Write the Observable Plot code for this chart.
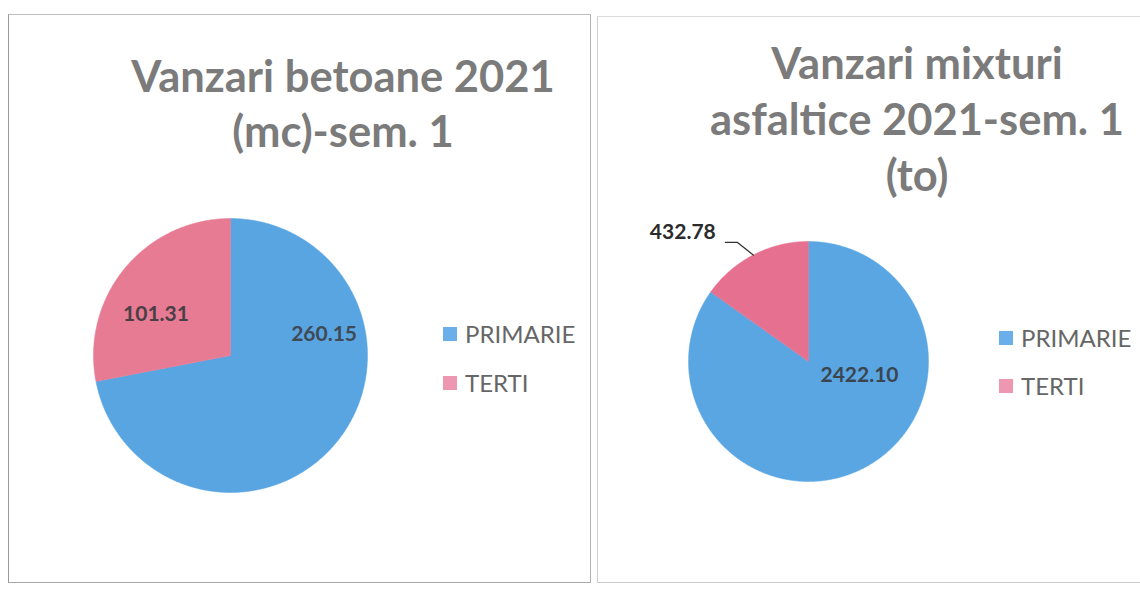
<!DOCTYPE html>
<html><head><meta charset="utf-8">
<script src="https://cdn.jsdelivr.net/npm/d3@7"></script>
<script src="https://cdn.jsdelivr.net/npm/@observablehq/plot@0.6"></script>
<style>
body{margin:0;background:#fff;}
#root{position:relative;width:1140px;height:589px;overflow:hidden;font-family:Lato,"Open Sans",sans-serif;}
.panel{position:absolute;box-sizing:border-box;}
.title{position:absolute;text-align:center;font-weight:700;color:#7b7b7b;font-size:43.5px;white-space:nowrap;}
.legend{position:absolute;font-size:24px;color:#666;}
.legend .item{position:absolute;left:0;display:flex;align-items:center;height:25px;line-height:25px;white-space:nowrap;}
.sw{width:14px;height:14px;margin-right:8px;}
.chart{position:absolute;}
</style></head><body><div id="root"></div><script>
// ---- data ----
const categories = ["PRIMARIE", "TERTI"];
const betoaneTitle = ["Vanzari betoane 2021", "(mc)-sem. 1"];
const betoaneValues = [260.15, 101.31];
const betoaneLabels = ["260.15", "101.31"];
const mixturiTitle = ["Vanzari mixturi", "asfaltice 2021-sem. 1", "(to)"];
const mixturiValues = [2422.10, 432.78];
const mixturiLabels = ["2422.10", "432.78"];

// ---- styling ----
const sliceColors = ["#59a5e2", "#e67b93"];
const legendColors = ["#6aaeea", "#ee97b0"];

const root = document.getElementById("root");

function polar(r, deg) {
  const a = deg * Math.PI / 180;
  return {x: r * Math.sin(a), y: r * Math.cos(a)};
}

function piePlot({values, labels, width, height, cx, cy, R, labelPlace, leader, sliceFill}) {
  const arcs = d3.pie().sort(null).value(d => d)(values);
  const pts = [];
  arcs.forEach((a, i) => {
    const cat = categories[i];
    pts.push({cat, x: 0, y: 0});
    const n = Math.max(2, Math.ceil((a.endAngle - a.startAngle) * 180 / Math.PI * 2));
    for (let k = 0; k <= n; k++) {
      const t = a.startAngle + (a.endAngle - a.startAngle) * k / n;
      pts.push({cat, x: Math.sin(t), y: Math.cos(t)});
    }
    pts.push({cat, x: 0, y: 0});
  });
  const labelRows = labels.map((text, i) => ({text, ...polar(labelPlace[i].r, labelPlace[i].angle), color: labelPlace[i].color}));
  const marks = [
    Plot.line(pts, {x: "x", y: "y", z: "cat", fill: "cat", stroke: "cat", strokeWidth: 0.5}),
    Plot.text(labelRows, {x: "x", y: "y", text: "text", fill: d => d.color, fontSize: 21, fontWeight: 700, fontFamily: "Lato, sans-serif"})
  ];
  if (leader) {
    marks.push(Plot.line(leader.map(([r, a]) => polar(r, a)), {x: "x", y: "y", stroke: "#333", strokeWidth: 1.3}));
  }
  return Plot.plot({
    width, height, margin: 0,
    style: {background: "transparent"},
    x: {domain: [-1, 1], range: [cx - R, cx + R], axis: null},
    y: {domain: [-1, 1], range: [cy + R, cy - R], axis: null},
    color: {domain: categories, range: sliceFill},
    marks
  });
}

function addTitle(lines, left, top, width, lineHeight) {
  const d = document.createElement("div");
  d.className = "title";
  d.style.left = left + "px"; d.style.top = top + "px"; d.style.width = width + "px";
  d.style.lineHeight = lineHeight + "px";
  d.innerHTML = lines.map(l => `<div>${l}</div>`).join("");
  root.appendChild(d);
}

function addLegend(left, tops) {
  const lg = document.createElement("div");
  lg.className = "legend";
  lg.style.left = left + "px"; lg.style.top = "0px";
  categories.forEach((c, i) => {
    const it = document.createElement("div");
    it.className = "item";
    it.style.top = tops[i] + "px";
    it.innerHTML = `<span class="sw" style="background:${legendColors[i]}"></span><span>${c}</span>`;
    lg.appendChild(it);
  });
  root.appendChild(lg);
}

function addPanel(left, top, w, h, border) {
  const p = document.createElement("div");
  p.className = "panel";
  Object.assign(p.style, {left: left + "px", top: top + "px", width: w + "px", height: h + "px"}, border);
  root.appendChild(p);
}

// panels (frames)
addPanel(8, 14, 583, 569, {borderLeft: "1.5px solid #9a9a9a", borderTop: "1px solid #bdbdbd", borderRight: "1.5px solid #b0b0b0", borderBottom: "1.5px solid #a8a8a8"});
addPanel(597, 16, 560, 567, {borderLeft: "1px solid #d0d0d0", borderTop: "1px solid #dddddd", borderBottom: "1px solid #c8c8c8"});

// left chart
addTitle(betoaneTitle, 93, 48, 500, 55);
const c1 = piePlot({
  values: betoaneValues, labels: betoaneLabels,
  width: 320, height: 320, cx: 160, cy: 160, R: 137,
  sliceFill: sliceColors,
  labelPlace: [{angle: 77.4, r: 0.70, color: "#3f4a55"}, {angle: 298.7, r: 0.62, color: "#4a3f45"}]
});
c1.classList.add("chart"); c1.style.left = "70px"; c1.style.top = "195px";
root.appendChild(c1);
addLegend(443, [321, 370]);

// right chart
addTitle(mixturiTitle, 667, 34, 500, 56);
const c2 = piePlot({
  values: mixturiValues, labels: mixturiLabels,
  width: 420, height: 320, cx: 240, cy: 160, R: 120,
  sliceFill: ["#5aa6e3", "#e6708f"],
  labelPlace: [{angle: 105, r: 0.44, color: "#3a4550"}, {angle: 315.7, r: 1.50, color: "#2b2b2b"}],
  leader: [[1.0, 332.6], [1.155, 329.2], [1.21, 325.1]]
});
c2.classList.add("chart"); c2.style.left = "568px"; c2.style.top = "201px";
root.appendChild(c2);
addLegend(999, [325, 373]);
</script></body></html>
